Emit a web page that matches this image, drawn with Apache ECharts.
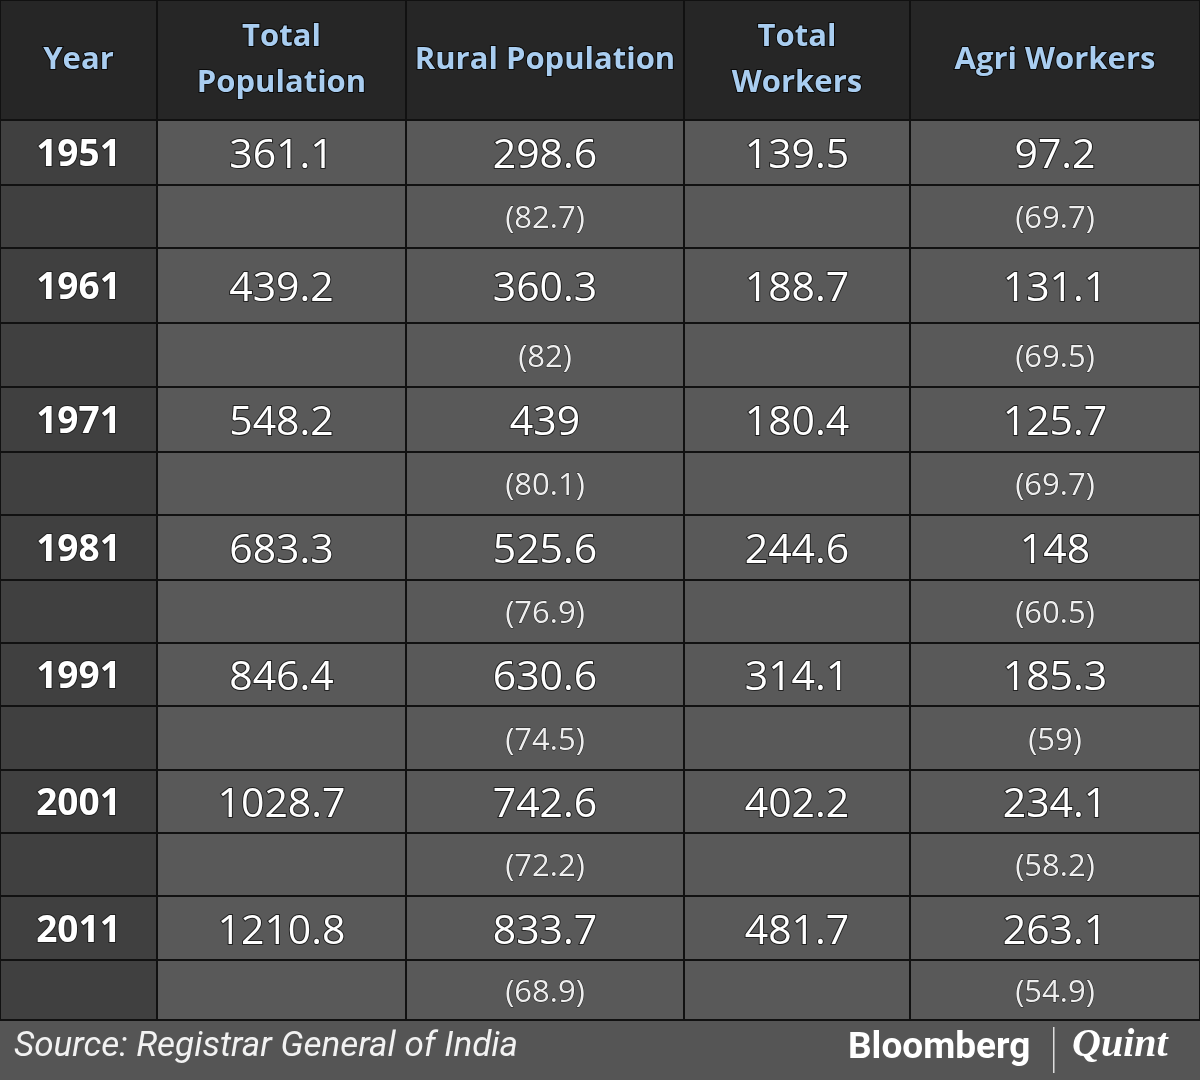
<!DOCTYPE html><html><head><meta charset="utf-8"><script src="https://cdn.jsdelivr.net/npm/echarts@6/dist/echarts.min.js"></script>
<style>html,body{margin:0;padding:0;background:#555}#c{width:1200px;height:1080px}</style></head><body><div id="c"></div><script>
const headers=["Year","Total\nPopulation","Rural Population","Total\nWorkers","Agri Workers"];
const years=["1951","1961","1971","1981","1991","2001","2011"];
const totalPop=["361.1","439.2","548.2","683.3","846.4","1028.7","1210.8"];
const ruralPop=["298.6","360.3","439","525.6","630.6","742.6","833.7"];
const ruralPct=["82.7","82","80.1","76.9","74.5","72.2","68.9"];
const totalWorkers=["139.5","188.7","180.4","244.6","314.1","402.2","481.7"];
const agriWorkers=["97.2","131.1","125.7","148","185.3","234.1","263.1"];
const agriPct=["69.7","69.5","69.7","60.5","59","58.2","54.9"];
const source="Source: Registrar General of India";

const colX=[0,157,406,684,910,1200];
const rowY=[0,120,185,248,323,387,452,515,580,643,706,770,833,896,960,1020];
const cells=[];
headers.forEach((h,c)=>cells.push([c,0,h,'h']));
years.forEach((y,i)=>{
  const r=1+i*2;
  const main=[y,totalPop[i],ruralPop[i],totalWorkers[i],agriWorkers[i]];
  main.forEach((t,c)=>cells.push([c,r,t,c===0?'y':'v']));
  const sub=['','','('+ruralPct[i]+')','','('+agriPct[i]+')'];
  sub.forEach((t,c)=>cells.push([c,r+1,t,c===0?'ys':'s']));
});
const chart=echarts.init(document.getElementById('c'));
chart.setOption({
  animation:false,backgroundColor:'#555555',
  grid:{left:0,right:0,top:0,bottom:0},
  xAxis:{type:'value',min:0,max:1200,show:false},
  yAxis:{type:'value',min:0,max:1080,inverse:true,show:false},
  series:[{type:'custom',data:cells,renderItem:(p,api)=>{
    const c=api.value(0),r=api.value(1),kind=cells[p.dataIndex][3],txt=cells[p.dataIndex][2];
    const a=api.coord([colX[c],rowY[r]]),b=api.coord([colX[c+1],rowY[r+1]]);
    let fill='#595959';
    if(kind==='h')fill='#262626';else if(kind==='y'||kind==='ys')fill='#404040';
    let font,color='#ffffff',stroke='#222',lw=2,dy=4;
    if(kind==='h'){font='bold 31px "Open Sans", sans-serif';color='#a9cdf0';stroke='#0a0a0a';dy=0;}
    else if(kind==='y'){font='bold 37px "Open Sans", sans-serif';dy=3;}
    else if(kind==='v'){font='41px "Open Sans", sans-serif';}
    else {font='31px "Open Sans", sans-serif';color='#eeeeee';lw=1;dy=3;}
    return {type:'group',children:[
      {type:'rect',shape:{x:a[0],y:a[1],width:b[0]-a[0],height:b[1]-a[1]},style:{fill:fill,stroke:'#111',lineWidth:2}},
      {type:'text',x:(a[0]+b[0])/2,y:(a[1]+b[1])/2+dy,style:{text:txt,font:font,fill:color,stroke:stroke,lineWidth:lw,align:'center',verticalAlign:'middle',lineHeight:46}}
    ]};
  }}],
  graphic:[
    {type:'text',left:14,top:1030,style:{text:source,font:'italic 35px "Liberation Sans Narrow", "Roboto", sans-serif',fill:'#f2f2f2'}},
    {type:'text',left:848,top:1030,style:{text:'Bloomberg',font:'bold 37px "Liberation Sans Narrow", "Roboto", sans-serif',fill:'#ffffff'}},
    {type:'rect',shape:{x:1053,y:1027,width:1.5,height:46},style:{fill:'#dddddd'}},
    {type:'text',left:1072,top:1026,style:{text:'Quint',font:'italic bold 40px "Liberation Serif", serif',fill:'#ffffff'}}
  ]
});
</script></body></html>
